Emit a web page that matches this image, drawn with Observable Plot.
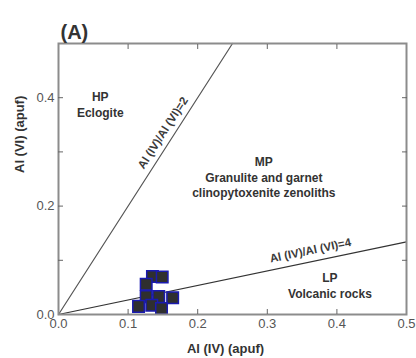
<!DOCTYPE html>
<html><head><meta charset="utf-8">
<script src="https://cdn.jsdelivr.net/npm/d3@7"></script>
<script src="https://cdn.jsdelivr.net/npm/@observablehq/plot@0.6"></script>
<style>body{margin:0;background:#fff} svg{display:block}</style>
</head><body><div id="chart"></div>
<script>
// Samples: Al(IV) vs Al(VI) (apfu)
const sampleAlIV = [0.135, 0.149, 0.126, 0.126, 0.144, 0.164, 0.115, 0.134, 0.148];
const sampleAlVI = [0.070, 0.069, 0.056, 0.033, 0.033, 0.031, 0.015, 0.017, 0.011];

// Boundary lines (end points)
const lineRatio2X = [0, 0.25];
const lineRatio2Y = [0, 0.5];
const lineRatio4X = [0, 0.5];
const lineRatio4Y = [0, 0.134];

// Labels
const regionLabels = ["HP\nEclogite", "MP\nGranulite and garnet\nclinopytoxenite zenoliths", "LP\nVolcanic rocks"];
const regionX = [0.060, 0.295, 0.390];
const regionY = [0.388, 0.254, 0.054];
const lineLabels = ["Al (IV)/Al (VI)=2", "Al (IV)/Al (VI)=4"];
const lineLabelX = [0.150, 0.362];
const lineLabelY = [0.335, 0.118];

const xTicks = [0, 0.1, 0.2, 0.3, 0.4, 0.5];
const yTickLabels = [0, 0.2, 0.4];
const yTicksAll = [0.1, 0.2, 0.3, 0.4];
const xTicksInner = [0.1, 0.2, 0.3, 0.4];

const W = 416, H = 358, ML = 58, MR = 10, MT = 43, MB = 44;
const xDom = [0, 0.5], yDom = [0, 0.5];
const pxX = (W - ML - MR) / (xDom[1] - xDom[0]);
const pxY = (H - MT - MB) / (yDom[1] - yDom[0]);
const angle = (slope) => -Math.atan(slope * pxY / pxX) * 180 / Math.PI;
const slope2 = (lineRatio2Y[1] - lineRatio2Y[0]) / (lineRatio2X[1] - lineRatio2X[0]);
const slope4 = (lineRatio4Y[1] - lineRatio4Y[0]) / (lineRatio4X[1] - lineRatio4X[0]);

const pts = sampleAlIV.map((x, i) => ({x, y: sampleAlVI[i]}));
const l2 = lineRatio2X.map((x, i) => ({x, y: lineRatio2Y[i]}));
const l4 = lineRatio4X.map((x, i) => ({x, y: lineRatio4Y[i]}));
const regions = regionLabels.map((t, i) => ({t, x: regionX[i], y: regionY[i]}));
const lls = lineLabels.map((t, i) => ({t, x: lineLabelX[i], y: lineLabelY[i], r: angle(i === 0 ? slope2 : slope4)}));

const font = "'Liberation Sans', Arial, sans-serif";
const tickColor = "#666";

const chart = Plot.plot({
  width: W, height: H,
  marginLeft: ML, marginRight: MR, marginTop: MT, marginBottom: MB,
  style: {fontFamily: font, background: "#fff"},
  x: {domain: xDom},
  y: {domain: yDom},
  marks: [
    Plot.line(l2, {x: "x", y: "y", stroke: "#555", strokeWidth: 1.2}),
    Plot.line(l4, {x: "x", y: "y", stroke: "#333", strokeWidth: 1.2}),
    Plot.dot(pts, {x: "x", y: "y", symbol: "square", r: 6.5, fill: "#2f2f2f", stroke: "#1a1ab0", strokeWidth: 1.5}),
    Plot.text(regions, {x: "x", y: "y", text: "t", fontSize: 12, fontWeight: "bold", fill: "#333", lineHeight: 1.3}),
    Plot.text(lls, {x: "x", y: "y", text: "t", rotate: d => d.r, fontSize: 11.5, fontWeight: "bold", fill: "#3a3a3a"}),
    Plot.frame({stroke: "#8c8c8c", strokeWidth: 2}),
    Plot.axisX({ticks: xTicksInner, tickSize: -5, fill: "none", stroke: tickColor, label: null}),
    Plot.axisX({ticks: xTicksInner, anchor: "top", tickSize: -5, fill: "none", stroke: tickColor, label: null}),
    Plot.axisX({ticks: xTicks, tickSize: 0, tickPadding: 4, tickFormat: d => d.toFixed(1), fontSize: 13, fill: "#555", label: null}),
    Plot.axisY({ticks: yTicksAll, tickSize: -5, fill: "none", stroke: tickColor, label: null}),
    Plot.axisY({ticks: yTicksAll, anchor: "right", tickSize: -5, fill: "none", stroke: tickColor, label: null}),
    Plot.axisY({ticks: yTickLabels, tickSize: 0, tickPadding: 4, tickFormat: d => d.toFixed(1), fontSize: 13, fill: "#555", label: null}),
    Plot.text(["(A)"], {frameAnchor: "top-left", dx: 2, dy: -5, lineAnchor: "bottom", textAnchor: "start", fontSize: 20, fontWeight: "bold", fill: "#333"}),
    Plot.text(["Al (IV) (apuf)"], {frameAnchor: "bottom", dx: -7, dy: 38, lineAnchor: "bottom", fontSize: 13, fontWeight: "bold", fill: "#333", ariaLabel: "xlabel"}),
    Plot.text(["Al (VI) (apuf)"], {frameAnchor: "left", dx: -39, dy: -6, rotate: -90, lineAnchor: "middle", fontSize: 13, fontWeight: "bold", fill: "#333", ariaLabel: "ylabel"})
  ]
});

// Smaller roman numerals in axis labels
function subscriptize(sel) {
  const t = chart.querySelector(`g[aria-label="${sel}"] text`);
  if (!t) return;
  const s = t.textContent;
  const m = s.match(/^(Al )(\([IVX]+\))( \(apuf\))$/);
  if (!m) return;
  t.textContent = "";
  const ns = "http://www.w3.org/2000/svg";
  [[m[1], null], [m[2], "10px"], [m[3], null]].forEach(([str, fs]) => {
    const ts = document.createElementNS(ns, "tspan");
    ts.textContent = str;
    if (fs) ts.setAttribute("font-size", fs);
    t.appendChild(ts);
  });
}
subscriptize("xlabel");
subscriptize("ylabel");

document.getElementById("chart").appendChild(chart);
</script>
</body></html>
